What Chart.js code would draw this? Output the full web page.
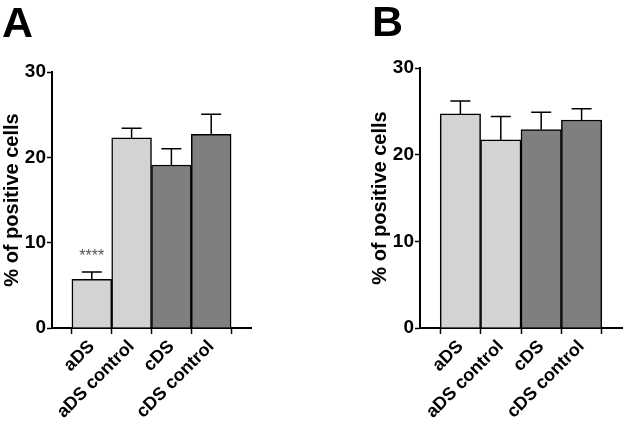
<!DOCTYPE html>
<html>
<head>
<meta charset="utf-8">
<script src="https://cdn.jsdelivr.net/npm/chart.js@4"></script>
<style>
  body { margin: 0; background: #fff; width: 625px; height: 424px; position: relative; overflow: hidden; }
  .panel { position: absolute; top: 0; }
  .letter { position: absolute; font-family: "Liberation Sans", Arial, sans-serif; font-weight: bold; font-size: 43px; line-height: 1; }
</style>
</head>
<body>
<div class="panel" style="left:0"><canvas id="chartA" width="312" height="424"></canvas></div>
<div class="panel" style="left:312px"><canvas id="chartB" width="313" height="424"></canvas></div>
<div class="letter" style="left:2px; top:1px">A</div>
<div class="letter" style="left:372px; top:0px">B</div>
<script>
const labels = ['aDS', 'aDS control', 'cDS', 'cDS control'];
const barColors = ['#d3d3d3', '#d3d3d3', '#7f7f7f', '#7f7f7f'];
const yTicks = [0, 10, 20, 30];

// panel A
const valuesA = [5.7, 22.3, 19.1, 22.7];
const errorsA = [0.85, 1.1, 1.9, 2.35];
const marksA = ['****', '', '', ''];

// panel B
const valuesB = [24.7, 21.7, 22.9, 24.0];
const errorsB = [1.5, 2.7, 2.0, 1.3];
const marksB = ['', '', '', ''];

const font = { family: '"Liberation Sans", Arial, sans-serif', weight: 'bold' };

const errorBars = {
    id: 'errorBars',
    afterDatasetsDraw(chart, args, opts) {
        const ctx = chart.ctx;
        const xs = chart.scales.x, ys = chart.scales.y;
        ctx.save();
        ctx.strokeStyle = '#000';
        ctx.lineWidth = 1.5;
        opts.values.forEach((v, i) => {
            const x = xs.getPixelForValue(i);
            const y0 = ys.getPixelForValue(v);
            const y1 = ys.getPixelForValue(v + opts.errors[i]);
            ctx.beginPath();
            ctx.moveTo(x, y0);
            ctx.lineTo(x, y1);
            ctx.moveTo(x - 10, y1);
            ctx.lineTo(x + 10, y1);
            ctx.stroke();
            if (opts.marks[i]) {
                ctx.fillStyle = '#555';
                ctx.font = '16px "Liberation Sans", Arial, sans-serif';
                ctx.textAlign = 'center';
                ctx.textBaseline = 'middle';
                ctx.fillText(opts.marks[i], x, y1 - 16);
            }
        });
        ctx.restore();
    }
};

function makeChart(id, values, errors, marks, padLeft, padTop, padRight) {
    return new Chart(document.getElementById(id), {
        type: 'bar',
        data: {
            datasets: [{
                data: values.map((v, i) => ({ x: i, y: v })),
                backgroundColor: barColors,
                borderColor: '#000',
                borderWidth: 1.5,
                categoryPercentage: 1,
                barPercentage: 1
            }]
        },
        options: {
            responsive: false,
            animation: false,
            layout: { padding: { left: padLeft, top: padTop, right: padRight, bottom: 0 } },
            plugins: {
                legend: { display: false },
                tooltip: { enabled: false },
                errorBars: { values: values, errors: errors, marks: marks }
            },
            scales: {
                x: {
                    type: 'linear',
                    offset: false,
                    min: -1,
                    max: 4,
                    afterBuildTicks: s => { s.ticks = [0, 1, 2, 3].map(v => ({ value: v })); },
                    afterFit: s => { s.height = 96; },
                    grid: { drawOnChartArea: false, tickLength: 6, tickColor: '#000', tickWidth: 1.5 },
                    border: { color: '#000', width: 2 },
                    ticks: {
                        autoSkip: false,
                        minRotation: 45,
                        maxRotation: 45,
                        padding: 2,
                        color: '#000',
                        font: Object.assign({ size: 18 }, font),
                        callback: v => labels[v]
                    }
                },
                y: {
                    min: 0,
                    max: 30,
                    afterBuildTicks: s => { s.ticks = yTicks.map(v => ({ value: v })); },
                    afterFit: s => { s.width = 52; },
                    grid: { drawOnChartArea: false, tickLength: 5, tickColor: '#000', tickWidth: 1.5 },
                    border: { color: '#000', width: 2 },
                    ticks: { padding: 1, color: '#000', font: Object.assign({ size: 19 }, font) },
                    title: {
                        display: true,
                        text: '% of positive cells',
                        color: '#000',
                        padding: 0,
                        font: Object.assign({ size: 20 }, font)
                    }
                }
            }
        },
        plugins: [errorBars]
    });
}

makeChart('chartA', valuesA, errorsA, marksA, 0, 72, 61);
makeChart('chartB', valuesB, errorsB, marksB, 56, 68, 3);
</script>
</body>
</html>
